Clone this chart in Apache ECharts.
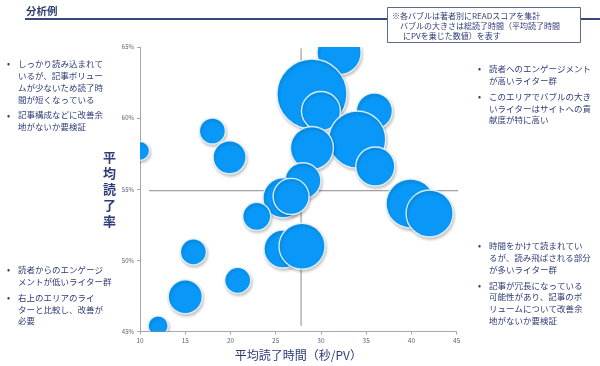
<!DOCTYPE html>
<html><head><meta charset="utf-8">
<script src="https://cdn.jsdelivr.net/npm/echarts@6/dist/echarts.min.js"></script>
<style>html,body{margin:0;padding:0;background:#fff}#c{width:600px;height:366px}</style>
</head><body><div id="c"></div>
<script>
// Bubble data: average reading time (sec/PV), average completion rate (%), total reading time (relative size)
const readTime = [32.0, 29.0, 30.0, 35.9, 34.0, 29.0, 36.0, 18.0, 19.9, 10.0, 28.0, 25.8, 26.7, 22.9, 25.8, 27.9, 39.9, 42.0, 15.9, 20.8, 15.0, 12.0];
const readRate = [64.6, 61.7, 60.5, 60.5, 58.5, 57.9, 56.6, 59.1, 57.25, 57.7, 55.6, 54.4, 54.5, 53.1, 50.8, 51.0, 54.0, 53.3, 50.6, 48.6, 47.45, 45.4];
const totalTime = [484, 1225, 380, 324, 812, 462, 380, 169, 272, 90, 324, 400, 324, 196, 361, 529, 600, 552, 169, 169, 289, 100];
// Reference (average) lines
const avgTime = 27.8;
const avgRate = 54.9;
const vLine = [[avgTime, 64.9], [avgTime, 45.4]];
const hLine = [[11, avgRate], [46, avgRate]];
// Axis ticks
const xTicks = [10, 15, 20, 25, 30, 35, 40, 45];
const yTicks = [45, 50, 55, 60, 65];

const FONT = '"Noto Sans CJK JP", "Noto Sans", sans-serif';
const NAVY = '#2D3B78';

const title = '分析例';
const noteLines = ['※各バブルは著者別にREADスコアを集計', 'バブルの大きさは総読了時間（平均読了時間', 'にPVを乗じた数値）を表す'];
const blockTL = [['しっかり読み込まれて', 'いるが、記事ボリュー', 'ムが少ないため読了時', '間が短くなっている'], ['記事構成などに改善余', '地がないか要検証']];
const blockTR = [['読者へのエンゲージメント', 'が高いライター群'], ['このエリアでバブルの大き', 'いライターはサイトへの貢', '献度が特に高い']];
const blockBL = [['読者からのエンゲージ', 'メントが低いライター群'], ['右上のエリアのライ', 'ターと比較し、改善が', '必要']];
const blockBR = [['時間をかけて読まれてい', 'るが、読み飛ばされる部分', 'が多いライター群'], ['記事が冗長になっている', '可能性があり、記事のボ', 'リュームについて改善余', '地がないか要検証']];

const data = readTime.map((x, i) => [x, readRate[i], totalTime[i]]);

function bulletBlock(groups, x, y, lh, gap) {
  const els = [];
  let cy = y;
  groups.forEach(lines => {
    els.push({type: 'text', x: x, y: cy, style: {text: '•', font: '9px ' + FONT, fill: NAVY, verticalAlign: 'middle'}});
    lines.forEach(t => {
      els.push({type: 'text', x: x + 11, y: cy, style: {text: t, font: '8.5px ' + FONT, fill: NAVY, verticalAlign: 'middle'}});
      cy += lh;
    });
    cy += gap;
  });
  return els;
}

const graphics = [
  {type: 'text', x: 26, y: 11, style: {text: title, font: 'bold 10.5px ' + FONT, fill: '#2E3F6E', verticalAlign: 'middle'}},
  {type: 'line', shape: {x1: 25, y1: 19, x2: 600, y2: 19}, style: {stroke: '#34497A', lineWidth: 2}},
  {type: 'rect', shape: {x: 387.5, y: 7.5, width: 193, height: 35}, style: {fill: '#fff', stroke: '#5C6A8C', lineWidth: 1}},
  {type: 'text', x: 392, y: 15.5, style: {text: noteLines[0], font: '8px ' + FONT, fill: NAVY, verticalAlign: 'middle'}},
  {type: 'text', x: 400, y: 25.5, style: {text: noteLines[1], font: '8px ' + FONT, fill: NAVY, verticalAlign: 'middle'}},
  {type: 'text', x: 403, y: 35.5, style: {text: noteLines[2], font: '8px ' + FONT, fill: NAVY, verticalAlign: 'middle'}}
].concat(
  bulletBlock(blockTL, 7, 64, 11.8, 4),
  bulletBlock(blockTR, 478, 69, 11.8, 4),
  bulletBlock(blockBL, 7, 270, 11.8, 4),
  bulletBlock(blockBR, 478, 246, 11.8, 4)
);

const chart = echarts.init(document.getElementById('c'), null, {renderer: 'canvas'});
chart.setOption({
  animation: false,
  backgroundColor: '#fff',
  textStyle: {fontFamily: FONT},
  grid: {left: 140, right: 143.3, top: 47, bottom: 33},
  xAxis: {
    type: 'value', min: xTicks[0], max: xTicks[xTicks.length - 1], interval: 5,
    splitLine: {show: false},
    axisLine: {lineStyle: {color: '#A3A8B8', width: 1}},
    axisTick: {show: true, length: 3, lineStyle: {color: '#A3A8B8'}},
    axisLabel: {fontSize: 6.5, color: '#5A5F70', margin: 6},
    name: '平均読了時間（秒/PV）', nameLocation: 'middle', nameGap: 14,
    nameTextStyle: {fontSize: 12, color: NAVY, fontFamily: FONT}
  },
  yAxis: {
    type: 'value', min: yTicks[0], max: yTicks[yTicks.length - 1], interval: 5,
    splitLine: {show: false},
    axisLine: {show: true, lineStyle: {color: '#A3A8B8', width: 1}},
    axisTick: {show: true, length: 3, lineStyle: {color: '#A3A8B8'}},
    axisLabel: {fontSize: 6, color: '#5A5F70', margin: 6, formatter: '{value}%'},
    name: '平\n均\n読\n了\n率', nameLocation: 'middle', nameGap: 20, nameRotate: 0,
    nameTextStyle: {fontSize: 13, fontWeight: 'bold', color: NAVY, lineHeight: 16, fontFamily: FONT}
  },
  graphic: graphics,
  series: [
    {type: 'line', data: vLine, symbol: 'none', clip: false, silent: true, lineStyle: {color: '#8A8A8A', width: 1}, z: 1},
    {type: 'line', data: hLine, symbol: 'none', clip: false, silent: true, lineStyle: {color: '#8A8A8A', width: 1}, z: 1},
    {
      type: 'custom', clip: true, z: 3,
      data: data,
      encode: {x: 0, y: 1},
      renderItem: function (params, api) {
        const p = api.coord([api.value(0), api.value(1)]);
        const r = Math.sqrt(api.value(2));
        return {
          type: 'circle',
          shape: {cx: p[0], cy: p[1], r: r},
          style: {fill: '#0998F7', stroke: 'rgba(235,245,255,0.9)', lineWidth: 1.4,
                  shadowBlur: 3, shadowOffsetX: 1, shadowOffsetY: 2, shadowColor: 'rgba(0,0,0,0.22)'}
        };
      }
    }
  ]
});
</script></body></html>
